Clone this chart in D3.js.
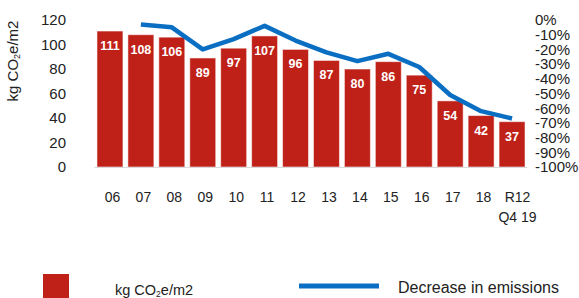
<!DOCTYPE html>
<html>
<head>
<meta charset="utf-8">
<script src="https://cdn.jsdelivr.net/npm/d3@7"></script>
<style>
  body { margin: 0; background: #fff; }
  svg { display: block; font-family: "Liberation Sans", Arial, sans-serif; }
</style>
</head>
<body>
<div id="chart"></div>
<script>
// values
const categories = ['06', '07', '08', '09', '10', '11', '12', '13', '14', '15', '16', '17', '18', 'R12'];
const emissions = [111, 108, 106, 89, 97, 107, 96, 87, 80, 86, 75, 54, 42, 37];
const decreaseCats = ['07', '08', '09', '10', '11', '12', '13', '14', '15', '16', '17', '18', 'R12'];
const decreasePct = [-3, -5, -20, -13, -4, -14, -22, -28, -23, -32, -51, -62, -67];
const leftTicks = [0, 20, 40, 60, 80, 100, 120];
const rightTicks = [0, -10, -20, -30, -40, -50, -60, -70, -80, -90, -100];

const W = 579, H = 298;
const BAR = '#bf2118';
const LINE = '#0a6fc2';
const TEXT = '#222';

const svg = d3.select('#chart').append('svg')
  .attr('width', W)
  .attr('height', H);

const x = d3.scaleBand().domain(categories).range([94.5, 527.5])
  .paddingInner(0.16).paddingOuter(0.08);
const y = d3.scaleLinear().domain([0, 120]).range([167, 20]);
const yPct = d3.scaleLinear().domain([-100, 0]).range([167, 20]);

// bars
svg.append('g').selectAll('rect')
  .data(emissions)
  .enter()
  .append('rect')
  .attr('x', (d, i) => x(categories[i]))
  .attr('y', d => y(d))
  .attr('width', x.bandwidth())
  .attr('height', d => y(0) - y(d))
  .attr('fill', BAR)
  .attr('stroke', 'rgba(255,255,255,0.55)')
  .attr('stroke-width', 1);

// bar value labels
svg.append('g').selectAll('text')
  .data(emissions)
  .enter()
  .append('text')
  .attr('x', (d, i) => x(categories[i]) + x.bandwidth() / 2)
  .attr('y', d => y(d) + 19)
  .attr('text-anchor', 'middle')
  .attr('font-size', '12.5px')
  .attr('font-weight', 'bold')
  .attr('fill', '#fff')
  .text(d => d);

// baseline
svg.append('line')
  .attr('x1', x.range()[0]).attr('x2', x.range()[1])
  .attr('y1', y(0) + 0.5).attr('y2', y(0) + 0.5)
  .attr('stroke', '#d9d9d9')
  .attr('stroke-width', 1);

// decrease line
const line = d3.line()
  .x((d, i) => x(decreaseCats[i]) + x.bandwidth() / 2)
  .y(d => yPct(d));

svg.append('path')
  .datum(decreasePct)
  .attr('d', line)
  .attr('fill', 'none')
  .attr('stroke', LINE)
  .attr('stroke-width', 4.5)
  .attr('stroke-linejoin', 'round');

// left axis
const gl = svg.append('g')
  .attr('transform', 'translate(70,0)')
  .call(d3.axisLeft(y).tickValues(leftTicks).tickSize(0).tickPadding(4));
gl.select('.domain').remove();
gl.selectAll('text')
  .attr('font-size', '15px')
  .attr('font-family', '"Liberation Sans", Arial, sans-serif')
  .attr('fill', TEXT);

// right axis
const gr = svg.append('g')
  .attr('transform', 'translate(531,0)')
  .call(d3.axisRight(yPct).tickValues(rightTicks).tickSize(0).tickPadding(4)
    .tickFormat(d => String(d) + '%'));
gr.select('.domain').remove();
gr.selectAll('text')
  .attr('font-size', '15px')
  .attr('font-family', '"Liberation Sans", Arial, sans-serif')
  .attr('fill', TEXT);

// bottom axis
const gb = svg.append('g')
  .attr('transform', `translate(0,${y(0)})`)
  .call(d3.axisBottom(x).tickSize(0).tickPadding(25));
gb.select('.domain').remove();
gb.selectAll('text')
  .attr('font-size', '14px')
  .attr('font-family', '"Liberation Sans", Arial, sans-serif')
  .attr('fill', TEXT)
  .attr('dx', d => d === 'R12' ? 5.5 : 2.5);
gb.selectAll('.tick')
  .filter(d => d === 'R12')
  .select('text')
  .append('tspan')
  .attr('x', 0)
  .attr('dy', '1.4em')
  .attr('dx', 5.5)
  .text('Q4 19');

// y axis title
const title = svg.append('text')
  .attr('transform', 'translate(18,61) rotate(-90)')
  .attr('text-anchor', 'middle')
  .attr('font-size', '15px')
  .attr('fill', TEXT);
title.append('tspan').text('kg CO');
title.append('tspan').attr('font-size', '9px').attr('dy', 2).text('2');
title.append('tspan').attr('dy', -2).text('e/m2');

// legend
svg.append('rect')
  .attr('x', 43).attr('y', 274)
  .attr('width', 26).attr('height', 30)
  .attr('fill', BAR);

const lg1 = svg.append('text')
  .attr('x', 115).attr('y', 295)
  .attr('font-size', '14.5px')
  .attr('fill', TEXT);
lg1.append('tspan').text('kg CO');
lg1.append('tspan').attr('font-size', '8.5px').attr('dy', 2).text('2');
lg1.append('tspan').attr('dy', -2).text('e/m2');

svg.append('line')
  .attr('x1', 299).attr('x2', 379)
  .attr('y1', 286).attr('y2', 286)
  .attr('stroke', LINE)
  .attr('stroke-width', 5);

svg.append('text')
  .attr('x', 398).attr('y', 293)
  .attr('font-size', '16px')
  .attr('fill', TEXT)
  .text('Decrease in emissions');
</script>
</body>
</html>
